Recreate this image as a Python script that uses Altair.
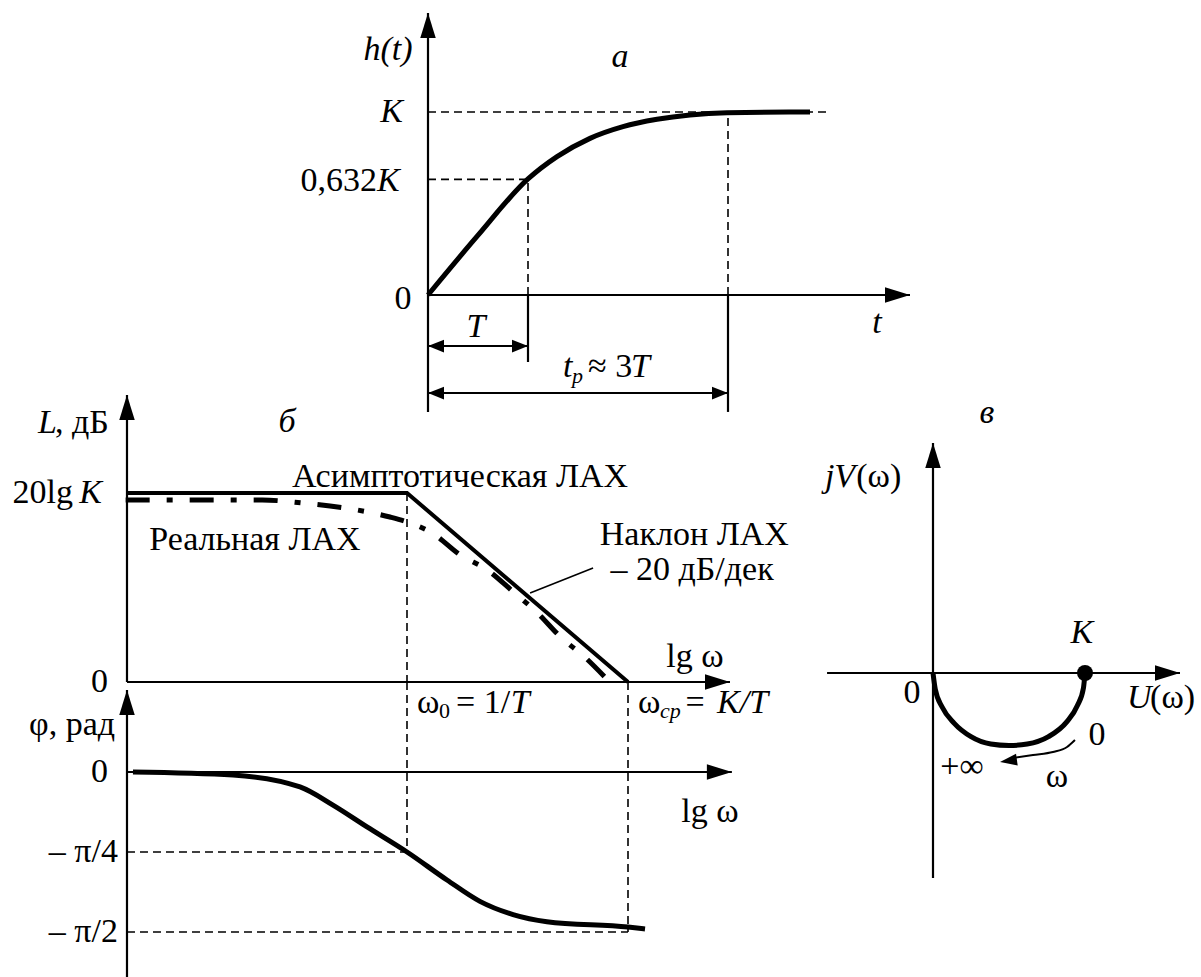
import math
import altair as alt
import pandas as pd

FONT = "'Liberation Serif', 'Times New Roman', Times, serif"
FS = 34        # main text size
FS_SUB = 22    # subscripts
INK = "black"

# ---------------- (а) step response: t in units of T, h in units of K ----------------
t_step = [0.0, 0.49, 1.0, 1.29, 1.62, 1.95, 2.29, 2.62, 2.99, 3.82]
h_step = [0.0, 0.32, 0.634, 0.756, 0.856, 0.92, 0.96, 0.984, 0.996, 1.0]
t_marks = [1.0, 3.0]       # T and t_p ~ 3T
h_marks = [1.0, 0.632]     # K and 0.632K

# ---------------- (б) log magnitude: lg w, w0 = 1/T at 0, w_cp = K/T at 1 ----------------
lg_asym = [-1.267, 0.0, 1.0]
L_asym = [20.0, 20.0, 0.0]                       # 20lgK taken as 20 dB
lg_real = [-1.273, -0.655, -0.473, -0.177, -0.077, 0.014, 0.114, 0.241,
           0.364, 0.482, 0.591, 0.695, 0.809, 0.90]
L_real = [19.26, 19.26, 18.94, 17.99, 17.46, 16.83, 15.77, 13.44,
          11.85, 9.52, 7.30, 4.76, 2.54, 0.42]

# ---------------- phase, rad ----------------
lg_phase = [-1.24, -0.787, -0.484, -0.335, -0.181, 0.0, 0.181, 0.33, 0.48, 0.633, 1.0, 1.077]
phi_phase = [0.0, -0.03, -0.147, -0.325, -0.539, -0.785, -1.06, -1.27,
             -1.40, -1.47, -1.522, -1.541]
phi_marks = [-math.pi / 4, -math.pi / 2]

# ---------------- (в) Nyquist plot, U and V in units of K ----------------
U_nyq = [1.0, 0.99, 0.95, 0.88, 0.76, 0.62, 0.5, 0.38, 0.25, 0.14, 0.06, 0.015, 0.0]
V_nyq = [0.0, -0.10, -0.22, -0.33, -0.43, -0.48, -0.49, -0.48, -0.43, -0.34, -0.23, -0.11, 0.0]
arc_U = [0.934, 0.882, 0.789, 0.658, 0.526]      # direction-of-w arrow
arc_V = [-0.453, -0.50, -0.534, -0.554, -0.574]
arc_tip = (0.441, -0.601)


def lin(domain, rng):
    return alt.Scale(domain=domain, range=rng, nice=False, zero=False)


# each sub-diagram has its own pair of linear scales placed on the page
PANELS = {
    "a": (lin([0, 1], [428, 528]), lin([0, 1], [295, 112])),
    "L": (lin([0, 1], [407, 628]), lin([0, 20], [682, 493])),
    "phi": (lin([0, 1], [407, 628]), lin([-math.pi / 2, 0], [932, 772])),
    "nyq": (lin([0, 1], [933, 1085]), lin([-0.5, 0], [747, 673])),
}

# arrowheads with the tip at the symbol origin, pointing up before rotation
HEAD_BIG = "M0,0L0.62,2L-0.62,2Z"
HEAD_SMALL = "M0,0L0.8,2L-0.8,2Z"

layers = []


def xy(panel):
    sx, sy = PANELS[panel]
    return alt.X("x:Q", scale=sx, axis=None), alt.Y("y:Q", scale=sy, axis=None)


def segments(panel, rows, **mark):
    df = pd.DataFrame(rows, columns=["x", "y", "x2", "y2"])
    ex, ey = xy(panel)
    layers.append(alt.Chart(df).mark_rule(color=INK, **mark).encode(
        x=ex, y=ey, x2="x2:Q", y2="y2:Q"))


def curve(panel, xs, ys, **mark):
    df = pd.DataFrame({"x": xs, "y": ys, "i": list(range(len(xs)))})
    ex, ey = xy(panel)
    layers.append(alt.Chart(df).mark_line(color=INK, **mark).encode(
        x=ex, y=ey, order="i:Q"))


def heads(panel, rows, shape=HEAD_BIG, size=625):
    df = pd.DataFrame(rows, columns=["x", "y", "a"])
    ex, ey = xy(panel)
    layers.append(alt.Chart(df).mark_point(
        shape=shape, size=size, filled=True, color=INK, opacity=1, strokeWidth=0
    ).encode(x=ex, y=ey, angle=alt.Angle("a:Q", scale=None)))


def texts(panel, rows, italic=False, align="center", size=FS):
    df = pd.DataFrame(rows, columns=["x", "y", "text"])
    ex, ey = xy(panel)
    mark = dict(font=FONT, fontSize=size, color=INK, align=align, baseline="middle")
    if italic:
        mark["fontStyle"] = "italic"
    layers.append(alt.Chart(df).mark_text(**mark).encode(x=ex, y=ey, text="text:N"))


AX = dict(strokeWidth=2.2)
DASH = dict(strokeWidth=1.6, strokeDash=[8, 5])

# ======================= (а) =======================
T, TP = t_marks
segments("a", [(0, 1.0, 4.0, 1.0), (0, h_marks[1], T, h_marks[1]),
               (T, 0, T, h_marks[1]), (TP, 0, TP, 1.0)], **DASH)
segments("a", [(0, 0, 4.82, 0), (0, -0.639, 0, 1.541),
               (T, 0, T, -0.366), (TP, 0, TP, -0.639)], **AX)
segments("a", [(0, -0.279, T, -0.279), (0, -0.536, TP, -0.536)], strokeWidth=2)
heads("a", [(4.82, 0, 90), (0, 1.541, 0)])
heads("a", [(0, -0.279, 270), (T, -0.279, 90), (0, -0.536, 270), (TP, -0.536, 90)],
      shape=HEAD_SMALL, size=256)
curve("a", t_step, h_step, strokeWidth=5, interpolate="monotone")

texts("a", [(-0.40, 1.339, "h(t)"), (1.92, 1.30, "а"), (0.48, -0.175, "T"),
            (4.49, -0.153, "t")], italic=True)
texts("a", [(-0.25, -0.02, "0")])
texts("a", [(-0.25, 1.0, "K")], italic=True, align="right")
texts("a", [(-0.51, 0.625, "0,632")], align="right")
texts("a", [(-0.51, 0.625, "K"), (1.35, -0.393, "t"), (2.03, -0.393, "T")],
      italic=True, align="left")
texts("a", [(1.44, -0.44, "p")], italic=True, align="left", size=FS_SUB)
texts("a", [(1.60, -0.393, "≈ 3")], align="left")

# ======================= (б) magnitude =======================
segments("L", [(0, 20, 0, 0)], **DASH)
segments("L", [(-1.267, 0, 1.4615, 0), (-1.267, 0, -1.267, 30.37)], **AX)
segments("L", [(0.557, 9.42, 0.842, 12.06)], strokeWidth=1.6)
heads("L", [(1.4615, 0, 90), (-1.267, 30.37, 0)])
curve("L", lg_real, L_real, strokeWidth=5, strokeDash=[24, 17, 6, 17],
      interpolate="monotone")
curve("L", lg_asym, L_asym, strokeWidth=4)

texts("L", [(-1.67, 27.4, "L")], italic=True, align="left")
texts("L", [(-1.593, 27.4, ", дБ")], align="left")
texts("L", [(-0.543, 27.5, "б")], italic=True)
texts("L", [(-1.511, 20, "20lg"), (-1.353, 0, "0")], align="right")
texts("L", [(-1.380, 20, "K")], italic=True, align="right")
texts("L", [(0.24, 21.7, "Асимптотическая ЛАХ"), (-0.688, 15.0, "Реальная ЛАХ"),
            (1.30, 15.56, "Наклон ЛАХ"), (1.29, 11.85, "– 20 дБ/дек"),
            (1.303, 2.65, "lg ω")])
texts("L", [(0.045, -2.22, "ω"), (0.222, -2.22, "= 1/"), (1.045, -2.22, "ω"),
            (1.26, -2.22, "=")], align="left")
texts("L", [(0.145, -3.1, "0")], align="left", size=FS_SUB)
texts("L", [(0.47, -2.22, "T"), (1.403, -2.22, "K/T")], italic=True, align="left")
texts("L", [(1.145, -3.1, "cp")], italic=True, align="left", size=FS_SUB)

# ======================= phase =======================
segments("phi", [(0, 0.883, 0, phi_marks[0]), (1, 0.883, 1, phi_marks[1]),
                 (-1.267, phi_marks[0], 0, phi_marks[0]),
                 (-1.267, phi_marks[1], 1, phi_marks[1])], **DASH)
segments("phi", [(-1.267, 0, 1.47, 0), (-1.267, -2.012, -1.267, 0.805)], **AX)
heads("phi", [(1.47, 0, 90), (-1.267, 0.805, 0)])
curve("phi", lg_phase, phi_phase, strokeWidth=5, interpolate="monotone")

texts("phi", [(-1.71, 0.461, "φ, рад")], align="left")
texts("phi", [(-1.353, 0, "0"), (-1.308, phi_marks[0], "– π/4"),
              (-1.308, phi_marks[1], "– π/2")], align="right")
texts("phi", [(1.371, -0.393, "lg ω")])

# ======================= (в) Nyquist =======================
segments("nyq", [(-0.697, 0, 1.625, 0), (0, -1.385, 0, 1.554)], **AX)
heads("nyq", [(1.625, 0, 90), (0, 1.554, 0)])
curve("nyq", U_nyq, V_nyq, strokeWidth=5, interpolate="monotone")
curve("nyq", arc_U, arc_V, strokeWidth=2, interpolate="monotone")
heads("nyq", [(arc_tip[0], arc_tip[1], 262)], shape="M0,0L0.7,2L-0.7,2Z", size=289)
layers.append(alt.Chart(pd.DataFrame({"x": [1.0], "y": [0.0]})).mark_point(
    shape="circle", size=256, filled=True, color=INK, opacity=1
).encode(x=xy("nyq")[0], y=xy("nyq")[1]))

texts("nyq", [(0.355, 1.757, "в"), (0.98, 0.27, "K")], italic=True)
texts("nyq", [(-0.711, 1.324, "jV"), (1.276, -0.169, "U")], italic=True, align="left")
texts("nyq", [(-0.505, 1.324, "(ω)"), (1.428, -0.169, "(ω)")], align="left")
texts("nyq", [(-0.138, -0.135, "0"), (1.079, -0.419, "0"), (0.191, -0.635, "+∞"),
              (0.816, -0.703, "ω")])

chart = alt.layer(*layers).resolve_scale(
    x="independent", y="independent"
).properties(
    width=1201, height=977, autosize="none", padding=0, background="white"
).configure_view(stroke=None)

chart.save("out.html", embed_options={"renderer": "svg", "actions": False})
